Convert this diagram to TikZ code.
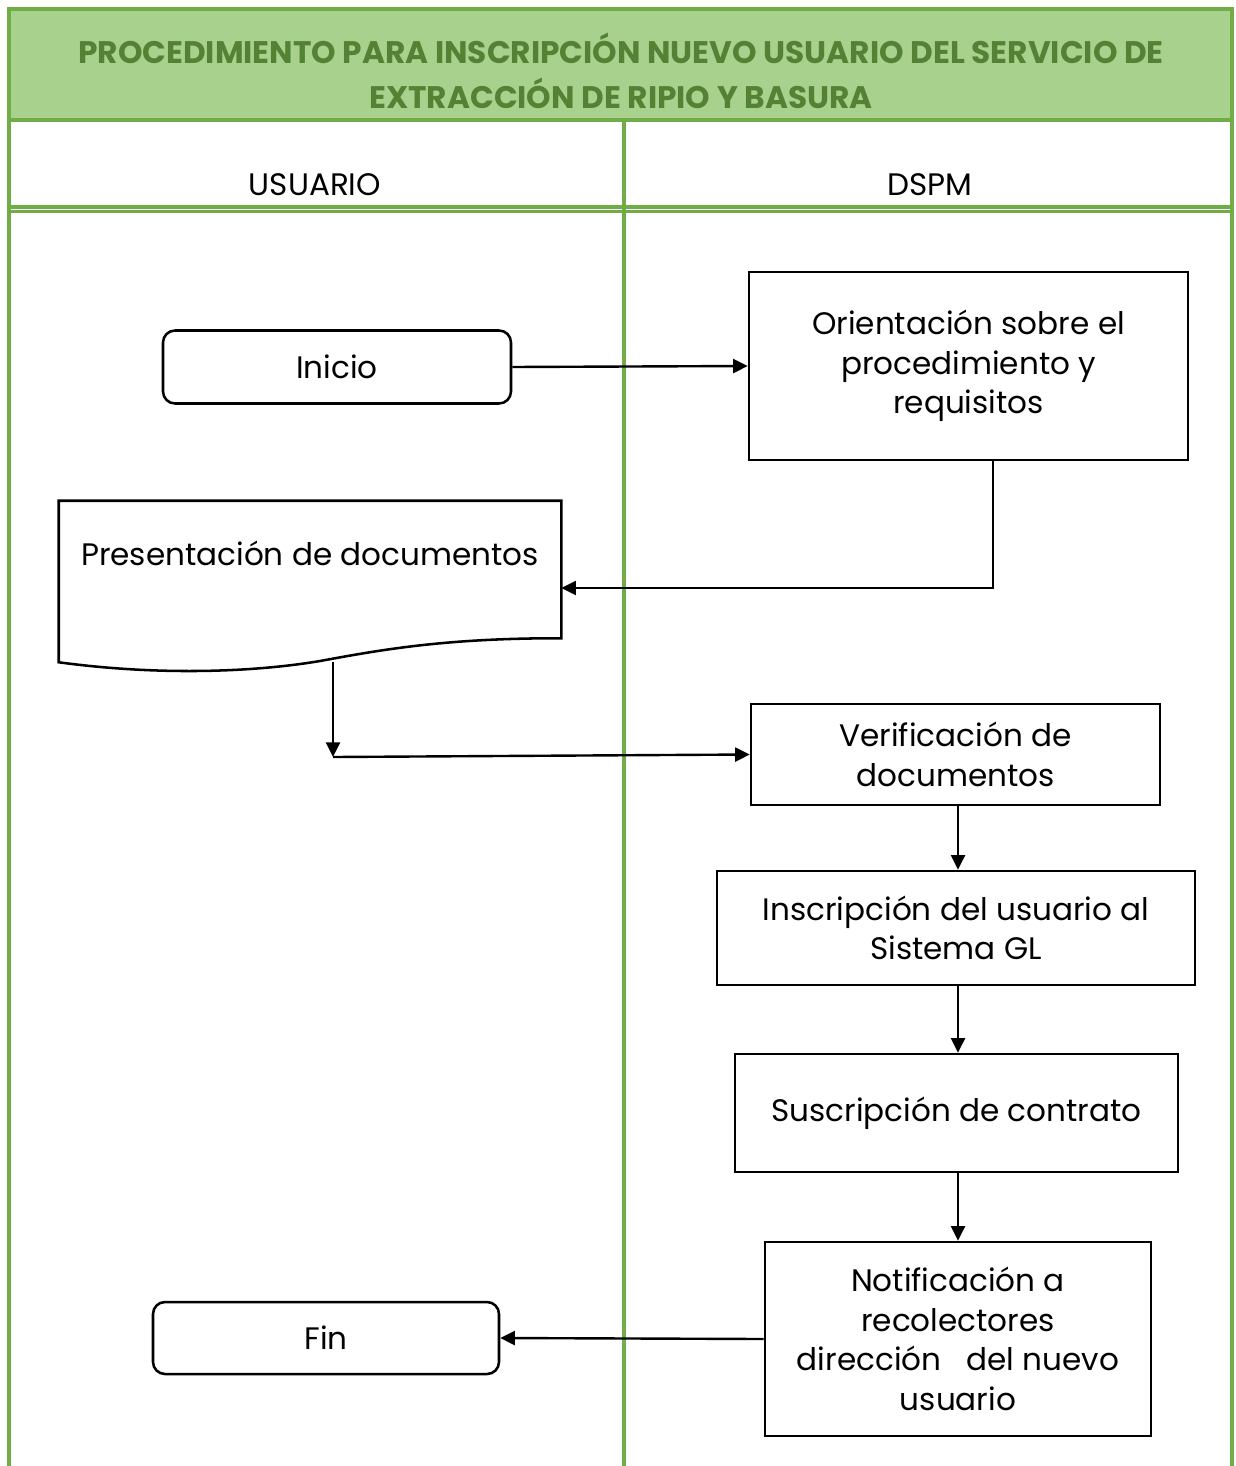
\documentclass[tikz,border=0pt]{standalone}
\usepackage{fontspec}
\setmainfont{Poppins}
\usetikzlibrary{arrows.meta,calc}
\definecolor{lanegreen}{HTML}{70AD47}
\definecolor{titlefill}{HTML}{A9D18E}
\definecolor{titletext}{HTML}{548235}
\begin{document}
\begin{tikzpicture}[x=0.75pt,y=-0.75pt,
  lane/.style={draw=lanegreen,line width=2.3pt},
  txt/.style={font=\fontsize{23.3}{29.6}\selectfont,align=center},
  procbox/.style={draw=black,line width=1.9pt,rectangle,txt,inner sep=1pt},
  termbox/.style={procbox,rounded corners=9pt},
  arr/.style={draw=black,line width=1.8pt,-{Triangle[length=11pt,width=10.5pt]}}]
\useasboundingbox (0,0) rectangle (1235,1466);
\fill[white] (0,0) rectangle (1235,1466);

% title band and swimlane frame
\fill[titlefill] (9,9) rectangle (1232,120);
\draw[lane] (9,1466) -- (9,9) -- (1232,9) -- (1232,1466);
\draw[lane] (9,120) -- (1232,120);
\draw[lane] (9,207) -- (1232,207);
\draw[lane] (9,211.5) -- (1232,211.5);
\draw[lane] (624,120) -- (624,1466);

\node[font=\fontsize{23.4}{34}\selectfont\bfseries,text=titletext,align=center] (title) at (621,71)
  {PROCEDIMIENTO PARA INSCRIPCIÓN NUEVO USUARIO DEL SERVICIO DE\\EXTRACCIÓN DE RIPIO Y BASURA};
\node[txt] (laneU) at (315,185) {USUARIO};
\node[txt] (laneD) at (930,185) {DSPM};

% process nodes
\node[termbox,minimum width=261pt,minimum height=54.75pt] (inicio) at (337,367) {Inicio};
\node[procbox,minimum width=329.25pt,minimum height=141pt] (orient) at (968.5,366)
  {\raisebox{-3pt}{\parbox{300pt}{\centering Orientación sobre el\\procedimiento y\\requisitos}}};
\node[draw=none,minimum width=376.5pt,minimum height=102.75pt,inner sep=0pt] (doc) at (310,569.5) {};
\draw[black,line width=1.9pt] (doc.south west) ++(0,24) coordinate (dl)
  -- (doc.north west) -- (doc.north east) -- (doc.south east)
  .. controls (445,638) and (380,650) .. (320,661)
  .. controls (255,672) and (160,676) .. (dl) -- cycle;
\node[txt] (doctext) at (310,553) {Presentación de documentos};
\node[procbox,minimum width=306.75pt,minimum height=75.75pt] (verif) at (955.5,754.5)
  {Verificación de\\documentos};
\node[procbox,minimum width=358.5pt,minimum height=85.5pt] (inscr) at (956,928)
  {Inscripción del usuario al\\Sistema GL};
\node[procbox,minimum width=332.25pt,minimum height=88.5pt] (suscr) at (956.5,1113)
  {Suscripción de contrato};
\node[procbox,minimum width=289.5pt,minimum height=145.5pt] (notif) at (958,1339)
  {Notificación a\\recolectores\\dirección \ \ del nuevo\\usuario};
\node[termbox,minimum width=259.5pt,minimum height=54pt] (fin) at (326,1338) {Fin};

% connectors
\draw[arr] (inicio.east) -- (orient.west);
\draw[arr] (orient.south -| 993,0) |- (doc.east |- 0,588);
\coordinate (bend) at (333,757);
\draw[arr] (333,662) -- (bend);
\draw[arr] (bend) -- (verif.west);
\draw[arr] (verif.south -| 958,0) -- (inscr.north -| 958,0);
\draw[arr] (inscr.south -| 958,0) -- (suscr.north -| 958,0);
\draw[arr] (suscr.south -| 958,0) -- (notif.north -| 958,0);
\draw[arr] (notif.west) -- (fin.east);
\end{tikzpicture}
\end{document}
